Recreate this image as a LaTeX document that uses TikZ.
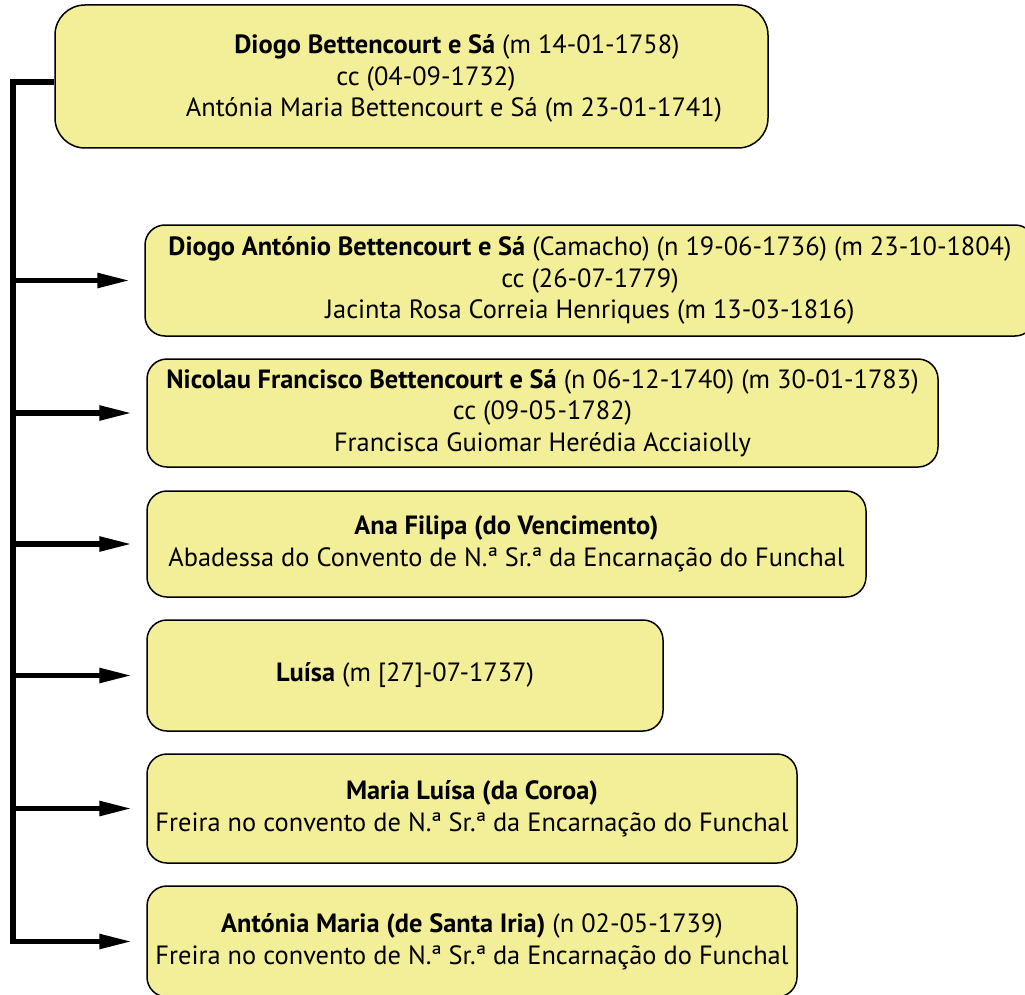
\documentclass[tikz,border=0pt]{standalone}
\usepackage{fontspec}
\setmainfont{PT Sans}
\usetikzlibrary{arrows.meta}
\definecolor{boxfill}{RGB}{242,239,152}
\begin{document}
\begin{tikzpicture}[x=1pt,y=-1pt,
  box/.style={draw=black, line width=1.5pt, fill=boxfill, rounded corners=20pt,
    inner sep=0pt, align=center, font=\fontsize{26.4}{31.5}\selectfont},
  txt/.style={inner sep=0pt, font=\fontsize{26.4}{31.5}\selectfont},
  link/.style={line width=5.5pt, -{Triangle[length=33pt,width=14pt]}, shorten >=14pt}]
\useasboundingbox (0,0) rectangle (1025,995);

\node[box, rounded corners=30pt, minimum width=713pt, minimum height=143pt] (top) at (411.5,76.5) {};
\node[txt] (t1) at (457,47) {\textbf{Diogo Bettencourt e Sá} (m 14-01-1758)};
\node[txt] (t2) at (426,79) {cc (04-09-1732)};
\node[txt] (t3) at (454,110) {Antónia Maria Bettencourt e Sá (m 23-01-1741)};

\node[box, minimum width=890pt, minimum height=111pt] (b2) at (590,280.5)
  {\textbf{Diogo António Bettencourt e Sá} (Camacho) (n 19-06-1736) (m 23-10-1804)\\
   cc (26-07-1779)\\
   Jacinta Rosa Correia Henriques (m 13-03-1816)};
\node[box, minimum width=791pt, minimum height=108pt] (b3) at (542.5,413)
  {\textbf{Nicolau Francisco Bettencourt e Sá} (n 06-12-1740) (m 30-01-1783)\\
   cc (09-05-1782)\\
   Francisca Guiomar Herédia Acciaiolly};
\node[box, minimum width=719pt, minimum height=106pt] (b4) at (506.5,544)
  {\textbf{Ana Filipa (do Vencimento)}\\
   Abadessa do Convento de N.ª Sr.ª da Encarnação do Funchal};
\node[box, minimum width=516pt, minimum height=111pt] (b5) at (405,675.5)
  {\textbf{Luísa} (m [27]-07-1737)};
\node[box, minimum width=650pt, minimum height=109pt] (b6) at (472,808.5)
  {\textbf{Maria Luísa (da Coroa)}\\
   Freira no convento de N.ª Sr.ª da Encarnação do Funchal};
\node[box, minimum width=650pt, minimum height=111pt] (b7) at (472,941.5)
  {\textbf{Antónia Maria (de Santa Iria)} (n 02-05-1739)\\
   Freira no convento de N.ª Sr.ª da Encarnação do Funchal};

\coordinate (tk) at (13,82);
\draw[link] (top.west |- tk) -- (tk) |- (b7);
\draw[link] (tk |- b2) -- (b2);
\draw[link] (tk |- b3) -- (b3);
\draw[link] (tk |- b4) -- (b4);
\draw[link] (tk |- b5) -- (b5);
\draw[link] (tk |- b6) -- (b6);
\end{tikzpicture}
\end{document}
